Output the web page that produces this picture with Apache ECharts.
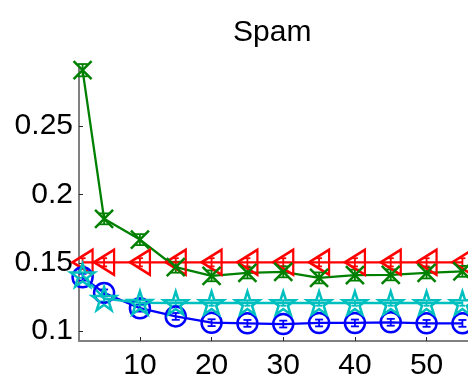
<!DOCTYPE html>
<html>
<head>
<meta charset="utf-8">
<script src="https://cdn.jsdelivr.net/npm/echarts@6/dist/echarts.min.js"></script>
<style>
  html, body { margin: 0; padding: 0; background: #fff; }
  #chart { width: 468px; height: 381px; }
</style>
</head>
<body>
<div id="chart"></div>
<script>
// Number of components on the x axis
const xValues = [2, 5, 10, 15, 20, 25, 30, 35, 40, 45, 50, 55];

// Mean error per method and its spread
const blueMean  = [0.1395, 0.1280, 0.1168, 0.1108, 0.1062, 0.1057, 0.1052, 0.1060, 0.1060, 0.1065, 0.1057, 0.1057];
const blueErr   = [0.0025, 0.0025, 0.0025, 0.0025, 0.0025, 0.0025, 0.0025, 0.0025, 0.0025, 0.0025, 0.0025, 0.0025];
const redMean   = [0.1504, 0.1504, 0.1504, 0.1504, 0.1504, 0.1504, 0.1504, 0.1504, 0.1504, 0.1504, 0.1504, 0.1504];
const redErr    = [0.0030, 0.0030, 0.0030, 0.0030, 0.0030, 0.0030, 0.0030, 0.0030, 0.0030, 0.0030, 0.0030, 0.0030];
const greenMean = [0.2910, 0.1822, 0.1670, 0.1468, 0.1405, 0.1426, 0.1434, 0.1390, 0.1410, 0.1412, 0.1426, 0.1438];
const greenErr  = [0.0045, 0.0040, 0.0040, 0.0040, 0.0040, 0.0040, 0.0040, 0.0040, 0.0040, 0.0040, 0.0040, 0.0040];
const cyanMean  = [0.1410, 0.1238, 0.1208, 0.1206, 0.1206, 0.1206, 0.1206, 0.1206, 0.1206, 0.1206, 0.1206, 0.1206];
const cyanErr   = [0.0020, 0.0020, 0.0020, 0.0020, 0.0020, 0.0020, 0.0020, 0.0020, 0.0020, 0.0020, 0.0020, 0.0020];

// Tick positions
const xTicks = [10, 20, 30, 40, 50];
const yTicks = [0.1, 0.15, 0.2, 0.25];

const pairs = (ys) => xValues.map((x, i) => [x, ys[i]]);

const STAR = 'path://M50,0L61.2,34.5L97.6,34.5L68.2,55.9L79.4,90.5L50,69.1L20.6,90.5L31.8,55.9L2.4,34.5L38.8,34.5Z';
const CROSS = 'path://M0,0L100,100M100,0L0,100';

function lineSeries(name, ys, color, symbol, size, rotate) {
  return {
    name, type: 'line', data: pairs(ys),
    symbol, symbolSize: size, symbolRotate: rotate || 0,
    showAllSymbol: true,
    lineStyle: { color, width: 2.3 },
    itemStyle: { color: 'rgba(0,0,0,0)', borderColor: color, borderWidth: 2.5 },
    emphasis: { disabled: true },
    animation: false, clip: true
  };
}

function errorSeries(ys, errs, color, capHalf) {
  return {
    type: 'custom',
    data: xValues.map((x, i) => [x, ys[i] - errs[i], ys[i] + errs[i]]),
    renderItem: (params, api) => {
      const lo = api.coord([api.value(0), api.value(1)]);
      const hi = api.coord([api.value(0), api.value(2)]);
      const style = { stroke: color, lineWidth: 1.8, fill: null };
      return {
        type: 'group',
        children: [
          { type: 'line', shape: { x1: lo[0], y1: lo[1], x2: hi[0], y2: hi[1] }, style },
          { type: 'line', shape: { x1: lo[0] - capHalf, y1: lo[1], x2: lo[0] + capHalf, y2: lo[1] }, style },
          { type: 'line', shape: { x1: hi[0] - capHalf, y1: hi[1], x2: hi[0] + capHalf, y2: hi[1] }, style }
        ]
      };
    },
    animation: false, silent: true
  };
}

const font = 'Liberation Sans, Arial, Helvetica, sans-serif';
const chart = echarts.init(document.getElementById('chart'), null, { renderer: 'canvas' });

chart.setOption({
  backgroundColor: '#ffffff',
  animation: false,
  title: {
    text: 'Spam', left: 233, top: 18, padding: 0,
    textStyle: { fontFamily: font, fontSize: 30, fontWeight: 'normal', color: '#000' }
  },
  grid: { left: 79, right: 0, top: 68, bottom: 35 },
  xAxis: {
    type: 'value', min: 1.5, max: 55.78,
    splitLine: { show: false },
    axisLine: { show: true, onZero: false, lineStyle: { color: '#808080', width: 2 } },
    axisTick: { show: true, inside: true, length: 4, customValues: xTicks, lineStyle: { color: '#262626', width: 1 } },
    axisLabel: { customValues: xTicks, margin: 10, fontFamily: font, fontSize: 30, color: '#000' }
  },
  yAxis: {
    type: 'value', min: 0.0928, max: 0.2926,
    splitLine: { show: false },
    axisLine: { show: true, onZero: false, lineStyle: { color: '#808080', width: 2 } },
    axisTick: { show: true, inside: true, length: 4, customValues: yTicks, lineStyle: { color: '#262626', width: 1 } },
    axisLabel: { customValues: yTicks, margin: 6, fontFamily: font, fontSize: 30, color: '#000',
      formatter: (v) => String(+v.toFixed(3)) }
  },
  series: [
    lineSeries('red', redMean, '#ff0000', 'triangle', [25, 20], 90),
    errorSeries(redMean, redErr, '#ff0000', 3),
    lineSeries('green', greenMean, '#008000', CROSS, [18, 18]),
    errorSeries(greenMean, greenErr, '#008000', 5),
    lineSeries('blue', blueMean, '#0000ff', 'circle', 20),
    errorSeries(blueMean, blueErr, '#0000ff', 4),
    lineSeries('cyan', cyanMean, '#00bfbf', STAR, [24, 23]),
    errorSeries(cyanMean, cyanErr, '#00bfbf', 3)
  ]
});
</script>
</body>
</html>
